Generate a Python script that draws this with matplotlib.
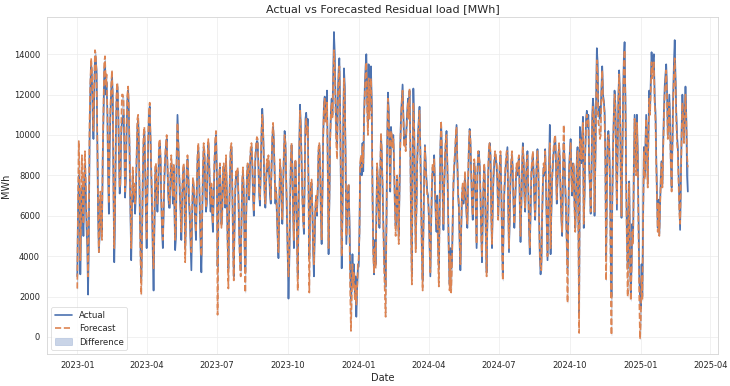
import numpy as np
import pandas as pd
import matplotlib
matplotlib.use("Agg")
import matplotlib.pyplot as plt
import matplotlib.dates as mdates
import seaborn as sns

# daily residual load, in hundreds of MWh, starting 2023-01-01
actual = [
    # 2023
    30, 62, 80, 72, 31, 58, 74, 66, 50, 78, 85, 70, 55, 44, 21, 48, 100, 124, 135, 128, 110, 98, 120, 139, 138, 132, 95, 60, 42, 50, 68,
    58, 52, 88, 110, 132, 136, 120, 126, 112, 80, 61, 95, 110, 122, 130, 118, 70, 37, 62, 98, 118, 124, 115, 90, 71, 76, 100, 108,
    106, 110, 96, 69, 78, 102, 118, 122, 110, 84, 60, 38, 64, 80, 67, 72, 61, 70, 88, 104, 108, 92, 64, 44, 28, 50, 78, 96, 102, 84, 62,
    44, 70, 96, 110, 114, 98, 80, 62, 40, 23, 52, 80, 84, 70, 62, 72, 92, 96, 88, 66, 52, 44, 60, 78, 88, 94, 98, 84, 70, 64,
    64, 80, 86, 78, 66, 84, 62, 43, 50, 90, 110, 96, 80, 70, 62, 48, 66, 80, 84, 70, 44, 60, 82, 88, 80, 66, 58, 46, 33, 60, 76,
    74, 66, 56, 48, 72, 88, 94, 80, 60, 44, 32, 58, 80, 94, 90, 72, 62, 66, 86, 96, 88, 70, 62, 74, 60, 52, 70, 86, 96, 100,
    80, 35, 60, 76, 84, 70, 56, 62, 80, 84, 72, 64, 88, 70, 48, 34, 60, 80, 92, 94, 76, 50, 30, 56, 72, 80, 78, 82, 70, 52, 40,
    33, 58, 76, 82, 70, 46, 32, 58, 78, 85, 80, 68, 84, 92, 94, 86, 70, 60, 72, 88, 94, 97, 96, 84, 70, 65, 82, 100, 113, 104, 86,
    70, 64, 76, 86, 82, 87, 80, 70, 66, 84, 98, 104, 96, 80, 66, 72, 60, 48, 39, 62, 86, 80, 70, 56, 74, 90, 102, 96, 78, 60,
    40, 19, 36, 64, 86, 95, 84, 62, 44, 70, 87, 74, 50, 30, 60, 96, 115, 104, 86, 70, 58, 51, 80, 108, 111, 102, 108, 76, 40, 62, 74,
    76, 62, 42, 30, 50, 64, 68, 60, 74, 92, 95, 84, 60, 46, 70, 100, 116, 119, 108, 112, 122, 80, 41, 66, 98, 112, 118, 110, 130, 151,
    140, 118, 100, 94, 120, 132, 138, 112, 70, 34, 60, 104, 133, 124, 90, 46, 58, 70, 75, 60, 36, 18, 30, 41, 28, 36, 22, 30, 10, 24, 34,
    # 2024
    35, 52, 84, 88, 80, 96, 82, 110, 124, 134, 140, 118, 104, 135, 112, 126, 134, 116, 70, 44, 31, 48, 36, 60, 84, 76, 62, 54, 80, 100, 90,
    74, 56, 40, 30, 25, 56, 96, 121, 112, 90, 72, 104, 98, 96, 100, 84, 66, 55, 70, 78, 62, 50, 72, 96, 110, 118, 125, 110, 96,
    100, 95, 104, 112, 118, 110, 122, 98, 56, 30, 84, 123, 106, 72, 45, 66, 88, 100, 108, 114, 94, 70, 44, 28, 56, 80, 95, 86, 78, 72, 70,
    60, 44, 30, 54, 74, 84, 80, 90, 72, 60, 52, 70, 46, 34, 62, 94, 106, 90, 70, 53, 74, 88, 96, 102, 86, 62, 40, 26, 44, 34,
    36, 58, 76, 84, 90, 98, 105, 86, 70, 64, 46, 33, 52, 70, 74, 66, 72, 80, 68, 60, 54, 76, 94, 103, 96, 82, 66, 58, 74, 86, 80,
    62, 44, 80, 90, 92, 84, 70, 52, 37, 60, 76, 84, 72, 50, 32, 58, 80, 92, 96, 90, 62, 44, 66, 80, 86, 90, 88, 84, 76, 60,
    72, 84, 90, 74, 48, 30, 56, 72, 80, 86, 90, 94, 64, 42, 60, 78, 86, 90, 80, 64, 54, 66, 78, 84, 80, 86, 89, 66, 47, 64, 84,
    96, 86, 70, 62, 76, 86, 92, 74, 54, 41, 62, 80, 86, 90, 80, 66, 58, 74, 86, 93, 84, 60, 40, 31, 36, 60, 76, 84, 80, 93, 74,
    56, 38, 60, 86, 105, 41, 62, 78, 86, 92, 96, 99, 84, 66, 78, 88, 95, 86, 70, 58, 50, 80, 96, 88, 74, 62, 48, 34, 60, 84,
    92, 98, 80, 70, 86, 84, 66, 54, 70, 88, 94, 60, 12, 104, 98, 86, 100, 109, 54, 70, 92, 108, 112, 104, 110, 84, 74, 61, 80, 110, 118,
    112, 60, 84, 118, 143, 136, 110, 114, 108, 112, 124, 134, 120, 117, 112, 90, 40, 76, 98, 102, 96, 77, 40, 20, 70, 94, 110, 122, 116, 90,
    63, 96, 120, 132, 118, 80, 59, 90, 118, 138, 146, 120, 80, 50, 34, 60, 77, 40, 22, 36, 56, 48, 86, 110, 96, 84, 110, 92, 60, 30, 20,
    # 2025
    14, 36, 20, 60, 94, 80, 96, 110, 92, 76, 104, 122, 112, 128, 141, 132, 138, 140, 118, 112, 90, 70, 54, 68, 51, 66, 80, 87, 76, 96, 112,
    124, 130, 135, 122, 100, 110, 120, 106, 86, 74, 96, 120, 136, 147, 130, 112, 100, 94, 80, 64, 53, 78, 104, 120, 110, 98, 112, 124,
    110, 80, 72,
]

forecast = [
    # 2023
    24, 70, 97, 80, 38, 62, 90, 72, 56, 82, 92, 76, 62, 52, 30, 55, 108, 126, 138, 132, 118, 102, 126, 142, 140, 130, 100, 65, 42, 55, 72,
    55, 48, 90, 112, 136, 139, 124, 130, 114, 84, 66, 98, 114, 124, 132, 120, 76, 44, 66, 100, 122, 126, 118, 92, 74, 80, 104, 120,
    120, 118, 100, 72, 82, 106, 120, 124, 112, 88, 66, 44, 68, 84, 70, 76, 66, 74, 92, 108, 110, 96, 68, 40, 21, 46, 82, 100, 104, 88, 66,
    48, 74, 100, 112, 116, 100, 84, 66, 48, 34, 56, 84, 86, 74, 66, 76, 96, 98, 90, 70, 56, 48, 64, 82, 90, 96, 100, 86, 72, 66,
    66, 84, 90, 80, 70, 86, 66, 48, 56, 92, 106, 98, 84, 74, 64, 52, 70, 82, 86, 72, 37, 58, 84, 90, 82, 70, 62, 50, 42, 64, 79,
    76, 70, 60, 52, 74, 90, 96, 84, 64, 50, 40, 62, 84, 96, 92, 76, 64, 70, 88, 98, 90, 74, 66, 76, 62, 56, 74, 88, 98, 102,
    84, 11, 52, 80, 86, 74, 54, 60, 84, 86, 74, 66, 90, 72, 46, 24, 58, 82, 94, 96, 78, 46, 28, 54, 76, 82, 80, 84, 72, 50, 36,
    30, 56, 78, 84, 72, 44, 22, 54, 80, 86, 82, 70, 86, 94, 96, 88, 72, 62, 74, 90, 96, 99, 98, 86, 72, 68, 84, 102, 110, 104, 88,
    72, 66, 78, 88, 84, 90, 82, 74, 68, 86, 100, 106, 98, 82, 68, 74, 62, 50, 42, 64, 88, 82, 72, 58, 76, 92, 100, 96, 80, 62,
    42, 30, 40, 66, 88, 96, 86, 64, 48, 72, 88, 76, 46, 23, 56, 92, 112, 102, 84, 68, 56, 54, 78, 104, 108, 100, 104, 70, 22, 58, 76,
    78, 64, 46, 36, 54, 66, 70, 62, 76, 94, 96, 86, 62, 48, 72, 98, 114, 118, 106, 108, 116, 78, 44, 68, 96, 110, 116, 108, 126, 142,
    134, 112, 96, 88, 114, 128, 134, 110, 74, 40, 62, 100, 128, 120, 88, 50, 62, 72, 76, 56, 24, 3, 20, 36, 24, 32, 18, 26, 16, 22, 36,
    # 2024
    38, 50, 86, 90, 84, 94, 86, 106, 120, 130, 136, 114, 100, 128, 108, 120, 128, 112, 68, 40, 32, 44, 34, 62, 86, 78, 64, 56, 82, 101, 92,
    76, 54, 34, 22, 10, 52, 92, 118, 110, 92, 74, 102, 100, 94, 98, 86, 64, 50, 72, 80, 60, 46, 74, 94, 108, 116, 122, 108, 94,
    98, 92, 102, 110, 116, 108, 123, 96, 52, 26, 80, 116, 104, 70, 42, 62, 86, 98, 106, 112, 92, 66, 40, 23, 52, 78, 94, 84, 76, 70, 68,
    62, 46, 32, 56, 76, 86, 82, 88, 74, 62, 56, 66, 40, 25, 58, 92, 107, 92, 72, 56, 76, 90, 98, 100, 88, 64, 42, 23, 40, 22,
    34, 56, 78, 86, 92, 100, 104, 88, 72, 66, 48, 36, 54, 72, 76, 68, 74, 82, 70, 62, 56, 78, 96, 102, 98, 84, 68, 60, 76, 88, 82,
    64, 46, 82, 92, 90, 86, 72, 50, 40, 62, 78, 86, 74, 48, 30, 56, 82, 94, 96, 92, 60, 46, 68, 82, 88, 92, 90, 86, 78, 58,
    74, 86, 92, 76, 46, 28, 54, 74, 82, 88, 92, 92, 66, 44, 62, 80, 88, 92, 82, 66, 56, 68, 80, 86, 82, 88, 90, 68, 50, 66, 86,
    94, 88, 72, 64, 78, 88, 90, 76, 56, 44, 64, 82, 88, 92, 82, 68, 60, 76, 88, 92, 86, 62, 42, 34, 33, 58, 78, 86, 82, 92, 76,
    58, 40, 62, 84, 96, 44, 64, 80, 88, 94, 98, 100, 86, 68, 80, 90, 96, 88, 72, 60, 52, 84, 105, 90, 76, 64, 44, 17, 56, 82,
    90, 96, 78, 72, 84, 86, 64, 52, 68, 86, 92, 56, 2, 98, 96, 88, 98, 106, 56, 72, 94, 106, 110, 106, 108, 86, 76, 62, 82, 106, 114,
    110, 62, 86, 114, 137, 130, 106, 104, 98, 100, 120, 132, 118, 116, 110, 86, 28, 70, 96, 100, 94, 76, 30, 1, 64, 92, 108, 120, 114, 86,
    66, 94, 118, 130, 116, 78, 60, 88, 116, 134, 142, 118, 76, 44, 20, 56, 76, 34, 18, 32, 52, 46, 82, 108, 94, 80, 106, 88, 54, 20, -1,
    # 2025
    8, 30, 18, 56, 92, 78, 94, 108, 90, 74, 100, 118, 110, 124, 136, 128, 134, 136, 116, 108, 86, 68, 52, 66, 50, 64, 78, 86, 74, 92, 108,
    120, 126, 132, 120, 98, 106, 116, 102, 84, 72, 92, 116, 130, 138, 126, 108, 96, 92, 78, 62, 56, 76, 100, 116, 108, 96, 110, 120,
    108, 90, 84,
]

start_date = "2023-01-01"

actual = np.array(actual) * 100
forecast = np.array(forecast) * 100
dates = pd.date_range(start_date, periods=len(actual), freq="D")

sns.set_theme(style="whitegrid")
plt.rcParams['font.family'] = ['DejaVu Sans']
plt.rcParams['grid.color'] = '#ececec'
plt.rcParams['axes.edgecolor'] = '#d6d6d6'

fig, ax = plt.subplots(figsize=(14.6, 7.72), dpi=50)
fig.subplots_adjust(left=0.064, right=0.984, top=0.957, bottom=0.082)

ax.plot(dates, actual, label="Actual", color="#4c72b0", linewidth=2.4)
ax.plot(dates, forecast, label="Forecast", color="#dd8452", linestyle="--", linewidth=2.4)
ax.fill_between(dates, actual, forecast, color="#4c72b0", alpha=0.3, label="Difference")

ax.set_title("Actual vs Forecasted Residual load [MWh]", fontsize=16)
ax.set_xlabel("Date", fontsize=14)
ax.set_ylabel("MWh", fontsize=14)
ax.tick_params(labelsize=12)
ax.xaxis.set_major_locator(mdates.MonthLocator(bymonth=[1, 4, 7, 10]))
ax.xaxis.set_major_formatter(mdates.DateFormatter("%Y-%m"))
ax.legend(loc="lower left", fontsize=12.5)

plt.savefig("out.png", dpi=50)
